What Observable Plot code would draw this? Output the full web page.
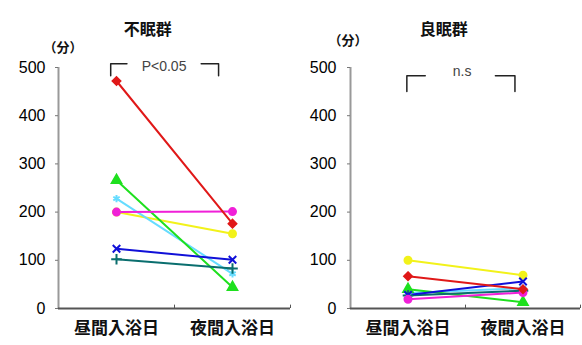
<!DOCTYPE html>
<html><head><meta charset="utf-8">
<script src="https://cdn.jsdelivr.net/npm/d3@7"></script>
<script src="https://cdn.jsdelivr.net/npm/@observablehq/plot@0.6"></script>
<style>
body{margin:0;background:#fff;}
#wrap{display:flex;width:582px;height:345px;}
svg{font-family:"Liberation Sans","Noto Sans CJK JP",sans-serif;}
</style></head>
<body><div id="wrap"></div>
<script>
const categories = ["昼間入浴日", "夜間入浴日"];
const subjects = ["A", "B", "C", "D", "E", "F", "G"];
const yTicks = [0, 100, 200, 300, 400, 500];
// 不眠群
const insomniaDay   = [200, 228, 266, 102, 124, 200, 472];
const insomniaNight = [155, 72, 44, 83, 101, 201, 176];
// 良眠群
const goodDay   = [100, 32, 40, 27, 28, 19, 67];
const goodNight = [69, 42, 13, 37, 56, 33, 40];

const palette = ["#f2f21a", "#66dcff", "#1ee01e", "#0a6e6e", "#1010d8", "#f020d8", "#e01818"];
const shapes = ["circle", "asterisk", "triangle", "plus", "times", "circle", "diamond2"];

function panel(o) {
  const rows = subjects.flatMap((id, i) => [
    {id, x: 0, y: o.day[i]}, {id, x: 1, y: o.night[i]}
  ]);
  const b = o.bracket;
  return Plot.plot({
    width: 291, height: 345,
    marginLeft: o.ml, marginRight: o.mr, marginTop: 67, marginBottom: 37,
    x: {type: "linear", domain: [-0.5, 1.5], axis: null},
    y: {domain: [0, 500], axis: null},
    color: {domain: subjects, range: palette},
    symbol: {domain: subjects, range: shapes},
    marks: [
      Plot.ruleX([-0.5], {y1: 0, y2: 500, stroke: "#999", strokeWidth: 2}),
      Plot.ruleY([0], {x1: -0.5, x2: 1.5, stroke: "#555", strokeWidth: 2}),
      Plot.ruleX([0.5, 1.5], {y1: 0, y2: 7, stroke: "#555"}),
      Plot.axisY({ticks: yTicks, label: null, tickSize: 3, tickPadding: o.tp, fontSize: 16, stroke: "#777", color: "#000"}),
      Plot.axisX({ticks: [0, 1], label: null, tickFormat: d => categories[d], tickSize: 0, tickPadding: 13, fontSize: 17, fontWeight: "bold", color: "#111",
        fontFamily: "Noto Sans CJK JP"}),
      Plot.line(rows, {x: "x", y: "y", z: "id", stroke: "id", strokeWidth: 2}),
      Plot.dot(rows, {x: "x", y: "y", symbol: "id", fill: "id", stroke: "id", r: 3.5, strokeWidth: 2}),
      Plot.line([[b.x0, b.yb], [b.x0, b.yt], [b.x1, b.yt]], {x: d => d[0], y: d => d[1], stroke: "#222", strokeWidth: 1.5}),
      Plot.line([[b.x2, b.yt], [b.x3, b.yt], [b.x3, b.yb]], {x: d => d[0], y: d => d[1], stroke: "#222", strokeWidth: 1.5}),
      Plot.text([o.note], {x: b.tx, y: b.ty, text: d => d, fontSize: 14, fill: "#444"}),
      Plot.text([o.title], {x: o.titleX, frameAnchor: "top", dy: -44, text: d => d, fontSize: 16, fontWeight: "bold", fill: "#111", fontFamily: "Noto Sans CJK JP"}),
      Plot.text(["（分）"], {frameAnchor: "top-left", dx: o.unitDx, dy: o.unitDy, text: d => d, fontSize: 13, fontWeight: "bold", fill: "#111", fontFamily: "Noto Sans CJK JP"})
    ]
  });
}

const wrap = document.getElementById("wrap");
wrap.append(panel({
  title: "不眠群", titleX: 0.27, day: insomniaDay, night: insomniaNight,
  ml: 58, mr: 1, tp: 10, note: "P<0.05",
  unitDx: -15, unitDy: -25,
  bracket: {x0: -0.05, x1: 0.09, x2: 0.73, x3: 0.88, yt: 508, yb: 483, tx: 0.41, ty: 503}
}));
wrap.append(panel({
  title: "良眠群", titleX: 0.31, day: goodDay, night: goodNight,
  ml: 59, mr: 2, tp: 11, note: "n.s",
  unitDx: -22, unitDy: -32,
  bracket: {x0: -0.01, x1: 0.15, x2: 0.76, x3: 0.93, yt: 483, yb: 450, tx: 0.47, ty: 492}
}));
</script></body></html>
